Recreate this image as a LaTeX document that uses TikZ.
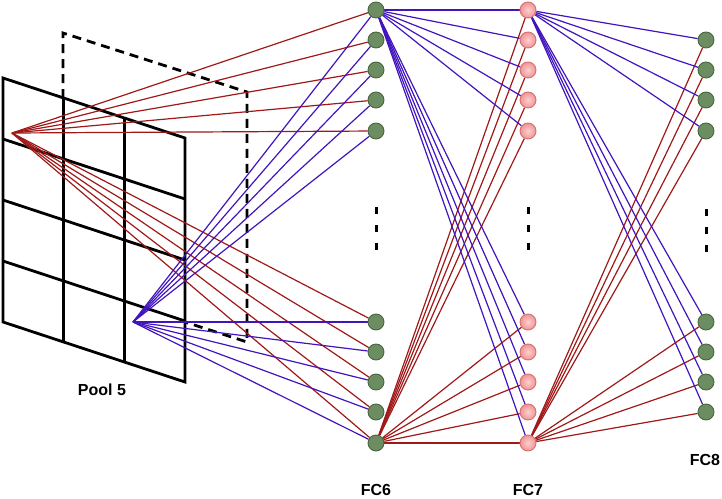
\documentclass[tikz,border=0pt]{standalone}
\usepackage{fontspec}
\setmainfont{Liberation Sans}
\usetikzlibrary{backgrounds}
\definecolor{lred}{RGB}{160,25,25}
\definecolor{lblue}{RGB}{65,20,190}
\definecolor{gfill}{RGB}{108,140,98}
\definecolor{gborder}{RGB}{72,102,62}
\definecolor{pfill}{RGB}{240,148,148}
\definecolor{pinner}{RGB}{252,208,208}
\definecolor{pborder}{RGB}{212,112,112}
\begin{document}
\begin{tikzpicture}[x=1pt,y=-1pt,
  redl/.style={draw=lred, line width=1.2pt},
  bluel/.style={draw=lblue, line width=1.2pt},
  gnode/.style={circle, draw=gborder, fill=gfill, line width=0.9pt, minimum size=16pt, inner sep=0pt},
  pnode/.style={circle, draw=pborder, inner color=pinner, outer color=pfill, line width=0.9pt, minimum size=16pt, inner sep=0pt},
  gridl/.style={draw=black, line width=2.8pt},
  backl/.style={draw=black, line width=2.8pt, dash pattern=on 9pt off 6pt},
  vdots/.style={draw=black, line width=3pt},
  lbl/.style={font=\fontsize{16}{19}\selectfont\bfseries, inner sep=0pt}]
\useasboundingbox (0,0) rectangle (722,498);
% nodes
\foreach \i/\y in {1/10,2/40,3/70,4/100,5/131}{
  \node[gnode] (f6t\i) at (376,\y) {};
  \node[pnode] (f7t\i) at (528,\y) {};
}
\foreach \i/\y in {1/322,2/352,3/382,4/412,5/443}{
  \node[gnode] (f6b\i) at (376,\y) {};
  \node[pnode] (f7b\i) at (528,\y) {};
}
\foreach \i/\y in {1/40,2/70,3/100,4/131}{
  \node[gnode] (f8t\i) at (706,\y) {};
}
\foreach \i/\y in {1/322,2/352,3/382,4/412}{
  \node[gnode] (f8b\i) at (706,\y) {};
}
\coordinate (rsrc) at (12,133);
\coordinate (bsrc) at (133,322);
% labels
\node[lbl] (pool) at (102,390) {Pool 5};
\node[lbl] (lfc6) at (376,490) {FC6};
\node[lbl] (lfc7) at (528,490) {FC7};
\node[lbl] (lfc8) at (705,460) {FC8};
% vertical dots
\foreach \x/\o in {376/0,528/0,706/2}{
  \draw[vdots] (\x,207+\o) -- (\x,214+\o);
  \draw[vdots] (\x,225+\o) -- (\x,232+\o);
  \draw[vdots] (\x,243+\o) -- (\x,250+\o);
}
\begin{pgfonlayer}{background}
  % back dashed plane
  \draw[backl] (63,98) -- (63,33) -- (247,92) -- (247,342) -- (185,322);
  % front grid
  \draw[gridl, line join=miter] (3,78) -- (185,138) -- (185,382) -- (3,322) -- cycle;
  \draw[gridl] (63.7,98) -- (63.7,342);
  \draw[gridl] (124.3,118) -- (124.3,362);
  \foreach \j in {1,2,3}{
    \draw[gridl] (3,78+61*\j) -- (185,138+61*\j);
  }
  % pool5 -> FC6
  \foreach \n in {f6t1,f6t2,f6t3,f6t4,f6t5,f6b1,f6b2,f6b3,f6b4,f6b5}{
    \draw[redl] (rsrc) -- (\n);
  }
  \foreach \n in {f6t1,f6t2,f6t3,f6t4,f6t5,f6b1,f6b2,f6b3,f6b4,f6b5}{
    \draw[bluel] (bsrc) -- (\n);
  }
  % FC6 -> FC7
  \foreach \n in {f7t1,f7t2,f7t3,f7t4,f7t5,f7b1,f7b2,f7b3,f7b4,f7b5}{
    \draw[bluel] (f6t1) -- (\n);
    \draw[redl] (f6b5) -- (\n);
  }
  % FC7 -> FC8
  \foreach \n in {f8t1,f8t2,f8t3,f8t4,f8b1,f8b2,f8b3,f8b4}{
    \draw[bluel] (f7t1) -- (\n);
    \draw[redl] (f7b5) -- (\n);
  }
\end{pgfonlayer}
\end{tikzpicture}
\end{document}
